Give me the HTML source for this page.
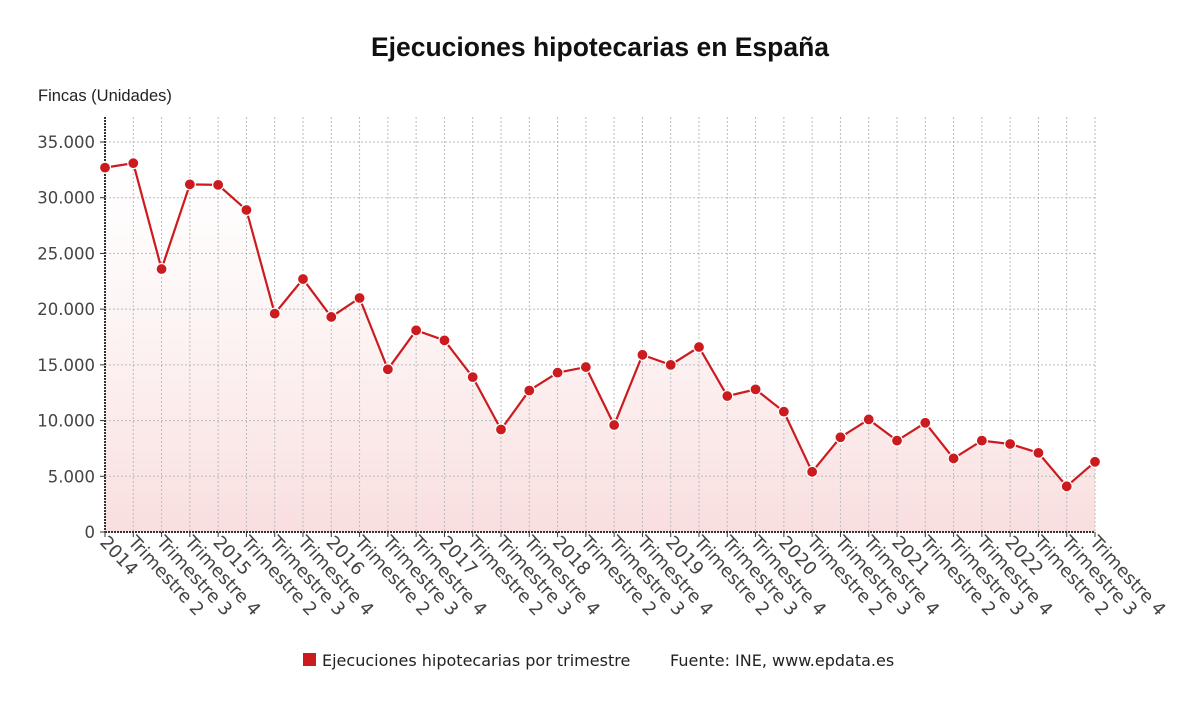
<!DOCTYPE html>
<html><head><meta charset="utf-8">
<style>
body{margin:0;background:#fff;font-family:"Liberation Sans","DejaVu Sans",sans-serif;}
svg{display:block}
</style></head>
<body>
<svg id="chart" width="1200" height="704" xmlns="http://www.w3.org/2000/svg">
<defs><linearGradient id="fillg" x1="0" y1="0" x2="0" y2="1">
<stop offset="0" stop-color="#fff" stop-opacity="0.6"/><stop offset="1" stop-color="#f9dede"/></linearGradient></defs>
<text x="600" y="56" text-anchor="middle" font-size="26.5" font-weight="bold" fill="#111">Ejecuciones hipotecarias en España</text>
<text x="38" y="101" font-size="16.5" fill="#222">Fincas (Unidades)</text>
<g id="grid"></g><g id="series"></g><g id="axes"></g>
<g font-family="DejaVu Sans, sans-serif">
<rect x="303" y="653" width="13" height="13" fill="#cc1b1f"/>
<text x="322" y="666" font-size="16" fill="#222">Ejecuciones hipotecarias por trimestre</text>
<text x="670" y="666" font-size="16" fill="#222">Fuente: INE, www.epdata.es</text>
</g>
</svg>
<script>
const categories=["2014","Trimestre 2","Trimestre 3","Trimestre 4","2015","Trimestre 2","Trimestre 3","Trimestre 4","2016","Trimestre 2","Trimestre 3","Trimestre 4","2017","Trimestre 2","Trimestre 3","Trimestre 4","2018","Trimestre 2","Trimestre 3","Trimestre 4","2019","Trimestre 2","Trimestre 3","Trimestre 4","2020","Trimestre 2","Trimestre 3","Trimestre 4","2021","Trimestre 2","Trimestre 3","Trimestre 4","2022","Trimestre 2","Trimestre 3","Trimestre 4"];
const values=[32700,33100,23600,31200,31150,28900,19600,22700,19300,21000,14600,18100,17200,13900,9200,12700,14300,14800,9600,15900,15000,16600,12200,12800,10800,5400,8500,10100,8200,9800,6600,8200,7900,7100,4100,6300];
const yTicks=[0,5000,10000,15000,20000,25000,30000,35000];
const yTickLabels=["0","5.000","10.000","15.000","20.000","25.000","30.000","35.000"];
const NS="http://www.w3.org/2000/svg";
const x0=105,x1=1095,y0=532,yTop=117,yMax=35000,yMaxPx=142;
const xs=i=>x0+(x1-x0)*i/(categories.length-1);
const ys=v=>y0-(y0-yMaxPx)*v/yMax;
function mk(tag,attrs,parent){const e=document.createElementNS(NS,tag);for(const k in attrs)e.setAttribute(k,attrs[k]);parent.appendChild(e);return e;}
const grid=document.getElementById('grid'),series=document.getElementById('series'),axes=document.getElementById('axes');
yTicks.forEach((t,i)=>{
 if(t>0){const l=mk('line',{x1:x0,x2:x1,y1:ys(t),y2:ys(t),stroke:'#bbb','stroke-dasharray':'2,2'},grid);
 
 }
 const tk=mk('line',{x1:x0-5,x2:x0,y1:ys(t),y2:ys(t),stroke:'#333'},axes);
 
 
 const tx=mk('text',{x:x0-10,y:ys(t)+6,'text-anchor':'end','font-size':'16.5','font-family':'DejaVu Sans, sans-serif',fill:'#444'},axes);
 tx.textContent=yTickLabels[i];
 
 
});
categories.forEach((c,i)=>{
 const x=xs(i);
 if(i>0){const l=mk('line',{x1:x,x2:x,y1:yTop,y2:y0,stroke:'#bbb','stroke-dasharray':'2,2'},grid);
 
 }
 const tk=mk('line',{x1:x,x2:x,y1:y0,y2:y0+5,stroke:'#333'},axes);
 
 
 const tx=mk('text',{x:x-6,y:y0+11,'font-size':'18','font-family':'DejaVu Sans, sans-serif',fill:'#444',transform:`rotate(47 ${x-6} ${y0+11})`},axes);
 tx.textContent=c;
 
 
});
let pts=values.map((v,i)=>xs(i)+','+ys(v));
const area=mk('polygon',{points:`${xs(0)},${y0} `+pts.join(' ')+` ${xs(values.length-1)},${y0}`,fill:'url(#fillg)'},series);


grid.parentNode.insertBefore(series,grid);
const line=mk('polyline',{points:pts.join(' '),fill:'none',stroke:'#cc1b1f','stroke-width':'2.2'},document.getElementById('chart'));


const pg=mk('g',{},document.getElementById('chart'));
values.forEach((v,i)=>{
 const c=mk('circle',{cx:xs(i),cy:ys(v),r:5.5,fill:'#cc1b1f',stroke:'#fff','stroke-width':'1.2'},pg);
 
 
});
const ya=mk('line',{x1:x0,x2:x0,y1:yTop,y2:y0,stroke:'#333','stroke-width':'2','stroke-dasharray':'2,1'},axes);


const xa=mk('line',{x1:x0,x2:x1,y1:y0,y2:y0,stroke:'#333','stroke-width':'2','stroke-dasharray':'2,1'},axes);


</script>
</body></html>
